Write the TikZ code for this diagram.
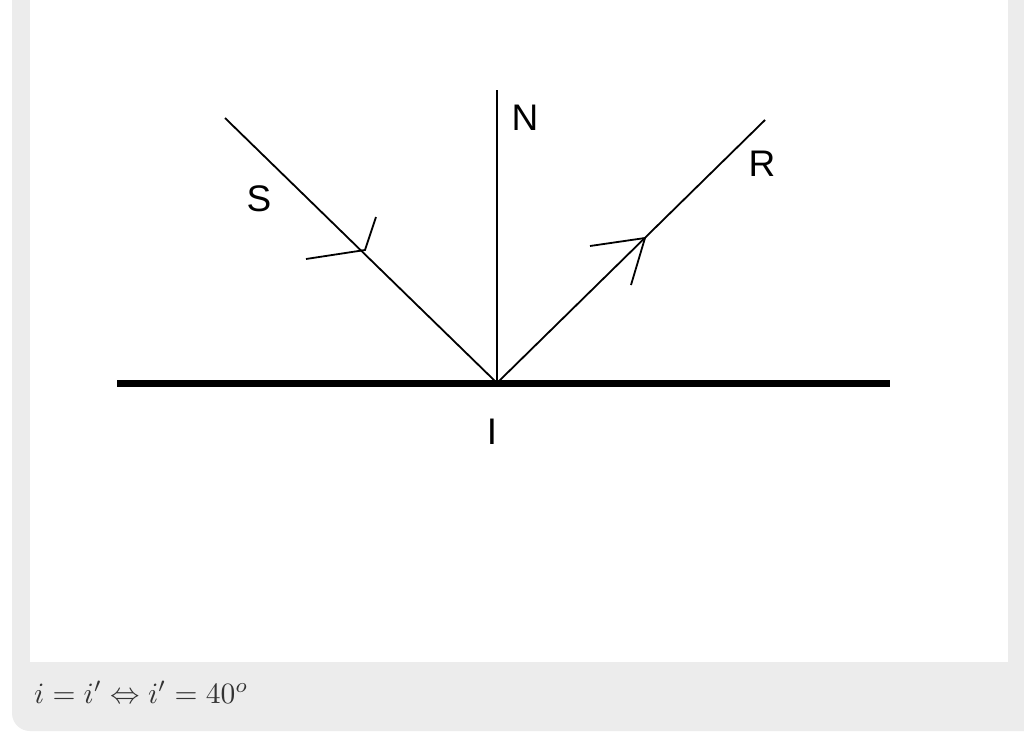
\documentclass[tikz,border=0pt]{standalone}
\usepackage{fontspec}
\usepackage{graphicx}
\setsansfont{Liberation Sans}
\begin{document}
\begin{tikzpicture}[x=1pt,y=-1pt,
  ray/.style={line width=1.8pt,black},
  lbl/.style={font=\sffamily\fontsize{37}{37}\selectfont,inner sep=0pt}]
\useasboundingbox (0,0) rectangle (1024,739);
\fill[white] (0,0) rectangle (1024,739);
\fill[gray!15,rounded corners=18pt] (12,-30) rectangle (1060,731);
\fill[white] (30,0) rectangle (1008,662);
\coordinate (I) at (497,383);
\coordinate (Ls) at (117,383);
\coordinate (Rs) at (890,383);
\coordinate (S0) at (225,118);
\coordinate (N0) at (497,90);
\coordinate (R0) at (765,120);
\coordinate (A1) at (365,250);
\coordinate (A2) at (645,238);
\draw[line width=7pt] (Ls) -- (Rs);
\draw[ray] (S0) -- (I);
\draw[ray] (N0) -- (I);
\draw[ray] (I) -- (R0);
\draw[ray] (306,259) -- (A1) -- (376,217);
\draw[ray] (590,246) -- (A2) -- (631,285);
\node[lbl] (s) at (259,199) {S};
\node[lbl] (n) at (525,118) {N};
\node[lbl] (r) at (762,164) {R};
\node[lbl] (i) at (492,432) {I};
\node[anchor=west,inner sep=0pt,text=black!80] (f) at (34,692) {\scalebox{2.95}{$i=i'\Leftrightarrow i'=40^o$}};
\end{tikzpicture}
\end{document}
